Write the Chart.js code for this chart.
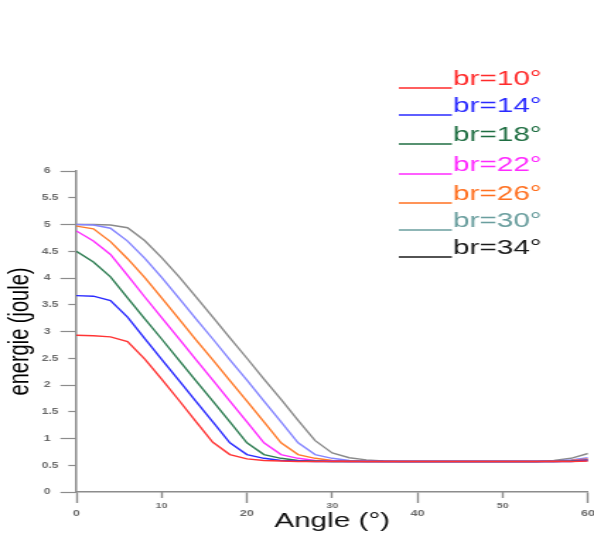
<!DOCTYPE html>
<html>
<head>
<meta charset="utf-8">
<script src="https://cdn.jsdelivr.net/npm/chart.js@4.4.1/dist/chart.umd.min.js"></script>
<style>
html,body{margin:0;padding:0;background:#fff;overflow:hidden}
</style>
</head>
<body>
<canvas id="c" width="420" height="541" style="display:block;width:594px;height:541px"></canvas>
<script>
// ---- data ----
const angles = [0,2,4,6,8,10,12,14,16,18,20,22,24,26,28,30,32,34,36,38,40,42,44,46,48,50,52,54,56,58,60];
const brValues = [10,14,18,22,26,30,34];
const br10 = [2.93,2.92,2.90,2.81,2.49,2.11,1.72,1.32,0.93,0.70,0.62,0.59,0.58,0.57,0.57,0.57,0.57,0.57,0.57,0.57,0.57,0.57,0.57,0.57,0.57,0.57,0.57,0.57,0.57,0.57,0.58];
const br14 = [3.67,3.66,3.58,3.27,2.87,2.48,2.09,1.70,1.31,0.92,0.70,0.63,0.59,0.58,0.57,0.57,0.57,0.57,0.57,0.57,0.57,0.57,0.57,0.57,0.57,0.57,0.57,0.57,0.57,0.57,0.59];
const br18 = [4.50,4.30,4.02,3.63,3.24,2.86,2.47,2.08,1.70,1.31,0.92,0.70,0.63,0.59,0.58,0.57,0.57,0.57,0.57,0.57,0.57,0.57,0.57,0.57,0.57,0.57,0.57,0.57,0.57,0.58,0.60];
const br22 = [4.88,4.69,4.44,4.05,3.65,3.26,2.87,2.48,2.09,1.70,1.31,0.92,0.70,0.63,0.59,0.58,0.57,0.57,0.57,0.57,0.57,0.57,0.57,0.57,0.57,0.57,0.57,0.57,0.57,0.58,0.61];
const br26 = [4.97,4.92,4.68,4.36,4.01,3.63,3.24,2.85,2.47,2.08,1.70,1.31,0.92,0.70,0.63,0.59,0.58,0.57,0.57,0.57,0.57,0.57,0.57,0.57,0.57,0.57,0.57,0.57,0.58,0.59,0.62];
const br30 = [5.00,4.99,4.93,4.69,4.37,4.01,3.63,3.24,2.86,2.47,2.09,1.70,1.31,0.92,0.70,0.63,0.59,0.58,0.57,0.57,0.57,0.57,0.57,0.57,0.57,0.57,0.57,0.57,0.58,0.60,0.64];
const br34 = [5.00,5.00,4.99,4.94,4.70,4.38,4.03,3.65,3.27,2.88,2.50,2.11,1.73,1.34,0.96,0.73,0.64,0.60,0.58,0.57,0.57,0.57,0.57,0.57,0.57,0.57,0.57,0.57,0.59,0.63,0.72];
const seriesValues = [br10, br14, br18, br22, br26, br30, br34];
const xTickValues = [0,10,20,30,40,50,60];
const yTickValues = [0,0.5,1,1.5,2,2.5,3,3.5,4,4.5,5,5.5,6];
const xTitle = 'Angle (°)';
const yTitle = 'energie (joule)';

// ---- styles ----
const lineColors = ['#ff3434','#2a2aff','#2e7d52','#ff2cff','#ff7a2a','#8585ff','#8a8a8a'];
const legendColors = ['#ff2a2a','#2a2aff','#1f6e42','#ff2aff','#ff7020','#6a9e9e','#1a1a1a'];
const FAM = '"Liberation Sans", Arial, sans-serif';
const AXIS = '#8c8c8c';
const TICKTXT = '#6b6b6b';

const datasets = seriesValues.map((vals, i) => ({
  label: 'br=' + brValues[i] + '°',
  data: vals.map((v, k) => ({x: angles[k], y: v})),
  borderColor: lineColors[i],
  backgroundColor: lineColors[i],
  borderWidth: 1.4,
  pointRadius: 0,
  tension: 0,
  fill: false
}));

const legendPlugin = {
  id: 'brLegend',
  afterLayout(chart) {
    // secondary (minor) axes share the gutters of the main axes
    const y2 = chart.scales.y2;
    y2.left = 0; y2.right = chart.chartArea.left; y2.width = y2.right - y2.left;
    const x2 = chart.scales.x2;
    x2.top = chart.chartArea.bottom; x2.bottom = chart.height; x2.height = x2.bottom - x2.top;
  },
  afterDraw(chart) {
    const ctx = chart.ctx;
    const baselines = [85, 112, 141, 171, 200, 227, 254];
    ctx.save();
    ctx.font = '21px ' + FAM;
    ctx.textAlign = 'left';
    ctx.textBaseline = 'alphabetic';
    chart.data.datasets.forEach((ds, i) => {
      const y = baselines[i];
      ctx.strokeStyle = legendColors[i];
      ctx.lineWidth = 1.3;
      ctx.beginPath();
      ctx.moveTo(282, y + 3);
      ctx.lineTo(319.5, y + 3);
      ctx.stroke();
      ctx.fillStyle = legendColors[i];
      ctx.fillText(ds.label, 320.3, y);
    });
    ctx.restore();
  }
};

new Chart(document.getElementById('c'), {
  type: 'line',
  data: { datasets },
  options: {
    responsive: false,
    devicePixelRatio: 1,
    animation: false,
    events: [],
    layout: { padding: { top: 171, right: 4.25, bottom: 0, left: 0 } },
    plugins: { legend: { display: false }, tooltip: { enabled: false } },
    scales: {
      x: {
        type: 'linear', position: 'bottom', weight: 1, min: 0, max: 60,
        afterBuildTicks: s => { s.ticks = xTickValues.filter(v => v % 20 === 0).map(v => ({value: v})); },
        ticks: { padding: 5, color: TICKTXT, maxRotation: 0, autoSkip: false,
                 font: {family: FAM, size: 9, weight: 'bold'} },
        grid: { drawOnChartArea: false, tickLength: 11, tickColor: AXIS, tickWidth: 1.4 },
        border: { color: AXIS, width: 1.5 },
        title: { display: true, text: xTitle, color: '#111', font: {family: FAM, size: 21}, padding: {top: 0, bottom: 7} },
        afterFit: s => { s.height = 49; s.paddingLeft = 0; s.paddingRight = 0; }
      },
      x2: {
        type: 'linear', axis: 'x', position: 'bottom', weight: 0, min: 0, max: 60,
        afterBuildTicks: s => { s.ticks = xTickValues.filter(v => v % 20 !== 0).map(v => ({value: v})); },
        ticks: { padding: 3, color: TICKTXT, maxRotation: 0, autoSkip: false,
                 font: {family: FAM, size: 7.5, weight: 'bold'} },
        grid: { drawOnChartArea: false, tickLength: 6, tickColor: AXIS, tickWidth: 1.4 },
        border: { display: false },
        afterFit: s => { s.height = 0; s.paddingLeft = 0; s.paddingRight = 0; }
      },
      y: {
        type: 'linear', position: 'left', weight: 1, min: 0, max: 6,
        afterBuildTicks: s => { s.ticks = yTickValues.filter(v => v % 1 === 0).map(v => ({value: v})); },
        ticks: { padding: 7, color: TICKTXT, font: {family: FAM, size: 8.5, weight: 'bold'}, callback: v => String(v) },
        grid: { drawOnChartArea: false, tickLength: 11.3, tickColor: AXIS, tickWidth: 1.2 },
        border: { color: AXIS, width: 1.5 },
        title: { display: true, text: yTitle, color: '#000', font: {family: FAM, size: 20}, padding: {top: 2, bottom: 0} },
        afterFit: s => { s.width = 54; }
      },
      y2: {
        type: 'linear', axis: 'y', position: 'left', weight: 0, min: 0, max: 6,
        afterBuildTicks: s => { s.ticks = yTickValues.filter(v => v % 1 !== 0).map(v => ({value: v})); },
        ticks: { padding: 7, color: TICKTXT, font: {family: FAM, size: 8.5, weight: 'bold'}, callback: v => String(v) },
        grid: { drawOnChartArea: false, tickLength: 5.7, tickColor: AXIS, tickWidth: 1.2 },
        border: { display: false },
        afterFit: s => { s.width = 0; }
      }
    }
  },
  plugins: [legendPlugin]
});
</script>
</body>
</html>
